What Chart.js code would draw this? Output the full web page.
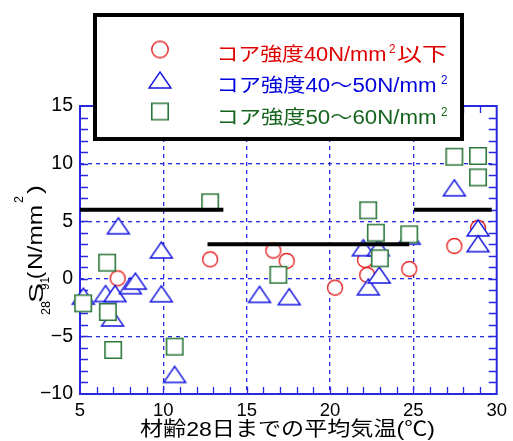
<!DOCTYPE html>
<html>
<head>
	<meta charset="utf-8">
	<title>コア強度と平均気温</title>
	<script src="https://cdn.jsdelivr.net/npm/chart.js"></script>
	<style type="text/css">
		body { margin: 0; padding: 0; background: #fff; }
		canvas { display: block; }
	</style>
</head>
<body>
	<canvas id="chart" width="513" height="441"></canvas>

	<script>
		// --- data ---
		// コア強度40N/mm2以下 (circles)
		var circleX = [7.26, 12.81, 16.6, 17.4, 20.3, 22.1, 22.23, 24.75, 27.46, 28.88];
		var circleY = [0.04, 1.69, 2.45, 1.55, -0.77, 1.63, 0.33, 0.85, 2.85, 4.42];
		// コア強度40～50N/mm2 (triangles)
		var triX = [5.2, 6.53, 7.1, 7.3, 6.95, 8.02, 8.32, 9.88, 9.88, 10.68, 15.77, 17.55, 22.0, 22.9, 22.3, 22.95, 24.75, 27.46, 28.88, 28.88];
		var triY = [-1.5, -1.28, -1.28, 4.6, -3.4, -0.6, -0.2, 2.5, -1.3, -8.3, -1.35, -1.55, 2.7, 2.7, -0.7, 0.33, 3.7, 7.9, 4.42, 3.05];
		// コア強度50～60N/mm2 (squares)
		var sqX = [5.19, 6.63, 6.67, 6.99, 10.68, 12.81, 16.9, 22.29, 22.75, 22.99, 24.75, 27.46, 28.88, 28.88];
		var sqY = [-2.13, 1.4, -2.88, -6.18, -5.89, 6.64, 0.35, 5.95, 4.0, 1.78, 3.86, 10.6, 10.66, 8.8];
		// black limit lines
		var limitLeftX = [5, 13.6], limitLeftY = [6, 6];
		var limitMidX = [12.65, 24.75], limitMidY = [3, 3];
		var limitRightX = [25.03, 29.7], limitRightY = [6, 6];
		// axes
		var xMin = 5, xMax = 30, xStep = 5;
		var yMin = -10, yMax = 15, yStep = 5;
		var minorStep = 1;
		var legendLabels = ['コア強度40N/mm', 'コア強度40～50N/mm', 'コア強度50～60N/mm'];
		var xTitle = '材齢28日までの平均気温(℃)';

		var FONT = '"Liberation Sans", "Noto Sans CJK JP", sans-serif';
		var BLUE = 'rgb(40,40,225)';
		var RED = 'rgb(230,35,35)';
		var MBLUE = 'rgb(20,20,225)';
		var GREEN = 'rgb(45,120,60)';

		function toPoints(xs, ys) {
			return xs.map(function(x, i) { return { x: x, y: ys[i] }; });
		}

		// 白抜きマーカーを作る
		function makeMarker(kind, color, s) {
			var c = document.createElement('canvas');
			var w = kind === 'triangle' ? 26 : 20, h = 20;
			c.width = w; c.height = h;
			var g = c.getContext('2d');
			g.fillStyle = '#fff';
			g.strokeStyle = color;
			g.lineWidth = kind === 'square' ? 1.6 : 1.4;
			g.beginPath();
			if (kind === 'circle') g.arc(w / 2, h / 2, 7.5 * s, 0, Math.PI * 2);
			if (kind === 'square') g.rect(w / 2 - 8.2 * s, h / 2 - 8.2 * s, 16.4 * s, 16.4 * s);
			if (kind === 'triangle') {
				g.moveTo(w / 2, h / 2 - 8 * s);
				g.lineTo(w / 2 + 11 * s, h / 2 + 8 * s);
				g.lineTo(w / 2 - 11 * s, h / 2 + 8 * s);
				g.closePath();
			}
			g.fill();
			g.stroke();
			return c;
		}
		var mCircle = makeMarker('circle', RED, 1);
		var mTri = makeMarker('triangle', MBLUE, 1);
		var mSq = makeMarker('square', GREEN, 1);
		var lgCircle = makeMarker('circle', RED, 1.1);

		// 横に伸ばした文字
		function putText(ctx, text, x, y, w, size, color) {
			ctx.font = size + 'px ' + FONT;
			ctx.fillStyle = color;
			ctx.textAlign = 'left';
			ctx.textBaseline = 'alphabetic';
			var m = ctx.measureText(text).width;
			ctx.save();
			ctx.translate(x, y);
			ctx.scale(w / m, 1);
			ctx.fillText(text, 0, 0);
			ctx.restore();
		}

		// 枠と内向きの目盛り
		var framePlugin = {
			id: 'frame',
			beforeDatasetsDraw: function(chart) {
				var ctx = chart.ctx, a = chart.chartArea;
				var xs = chart.scales.x, ys = chart.scales.y;
				ctx.save();
				ctx.strokeStyle = BLUE;
				ctx.lineWidth = 1.3;
				ctx.beginPath();
				for (var v = xMin + minorStep; v < xMax; v += minorStep) {
					var p = Math.round(xs.getPixelForValue(v)) + 0.5;
					ctx.moveTo(p, a.bottom); ctx.lineTo(p, a.bottom - 7);
					ctx.moveTo(p, a.top); ctx.lineTo(p, a.top + 7);
				}
				for (var u = yMin + minorStep; u < yMax; u += minorStep) {
					var q = Math.round(ys.getPixelForValue(u)) + 0.5;
					ctx.moveTo(a.left, q); ctx.lineTo(a.left + 8, q);
					ctx.moveTo(a.right, q); ctx.lineTo(a.right - 8, q);
				}
				ctx.stroke();
				ctx.lineWidth = 2;
				ctx.strokeRect(a.left, a.top, a.right - a.left, a.bottom - a.top);
				ctx.restore();
			}
		};

		// 凡例と軸タイトル
		var textPlugin = {
			id: 'texts',
			afterDraw: function(chart) {
				var ctx = chart.ctx;
				ctx.save();

				// legend box
				ctx.fillStyle = '#fff';
				ctx.fillRect(93, 13, 371, 127);
				ctx.strokeStyle = '#000';
				ctx.lineWidth = 4;
				ctx.strokeRect(95, 15, 367, 124);

				ctx.drawImage(lgCircle, 160 - lgCircle.width / 2, 49.5 - lgCircle.height / 2);
				ctx.drawImage(mTri, 160 - mTri.width / 2, 80 - mTri.height / 2);
				ctx.drawImage(mSq, 160 - mSq.width / 2, 111.5 - mSq.height / 2);

				putText(ctx, legendLabels[0], 216.5, 60.5, 170, 19.5, 'rgb(225,0,0)');
				putText(ctx, '2', 389, 53, 6.5, 12, 'rgb(225,0,0)');
				putText(ctx, '以下', 397, 61, 50, 19.5, 'rgb(225,0,0)');
				putText(ctx, legendLabels[1], 216.5, 92, 220, 19.5, 'rgb(0,0,220)');
				putText(ctx, '2', 441, 84, 6.5, 12, 'rgb(0,0,220)');
				putText(ctx, legendLabels[2], 216.5, 123.5, 220, 19.5, 'rgb(20,100,30)');
				putText(ctx, '2', 441, 115.5, 6.5, 12, 'rgb(20,100,30)');

				// x title
				putText(ctx, xTitle, 140, 436, 295, 20, '#000');

				// y title (rotated)
				ctx.translate(0, 315);
				ctx.rotate(-Math.PI / 2);
				putText(ctx, '28', 0, 50, 14, 12, '#000');
				putText(ctx, 'S', 12, 43, 20, 21, '#000');
				putText(ctx, '91', 25, 48.5, 13, 12, '#000');
				putText(ctx, '(', 36, 42, 7, 21, '#000');
				putText(ctx, 'N/mm', 45, 42, 65, 21, '#000');
				putText(ctx, '2', 112, 23, 7, 12, '#000');
				putText(ctx, ')', 121, 42, 9, 21, '#000');

				ctx.restore();
			}
		};

		function gridColor(lo, hi) {
			return function(c) {
				if (!c.tick) return 'transparent';
				return (c.tick.value > lo && c.tick.value < hi) ? BLUE : 'transparent';
			};
		}

		var lineStyle = { type: 'line', borderColor: '#000', borderWidth: 4, pointRadius: 0, borderCapStyle: 'butt', fill: false, order: 0, clip: false };

		var ctx = document.getElementById('chart').getContext('2d');
		var chart = new Chart(ctx, {
			type: 'scatter',
			data: {
				datasets: [
					{ label: 'コア強度40N/mm2以下', data: toPoints(circleX, circleY), pointStyle: mCircle, pointRadius: 8, order: 3, clip: false },
					{ label: 'コア強度40～50N/mm2', data: toPoints(triX, triY), pointStyle: mTri, pointRadius: 8, order: 2, clip: false },
					{ label: 'コア強度50～60N/mm2', data: toPoints(sqX, sqY), pointStyle: mSq, pointRadius: 8, order: 1, clip: false },
					Object.assign({ data: toPoints(limitLeftX, limitLeftY) }, lineStyle),
					Object.assign({ data: toPoints(limitMidX, limitMidY) }, lineStyle),
					Object.assign({ data: toPoints(limitRightX, limitRightY) }, lineStyle)
				]
			},
			options: {
				responsive: false,
				animation: false,
				layout: { padding: { top: 106, right: 16, left: 0, bottom: 0 } },
				plugins: { legend: { display: false }, tooltip: { enabled: false } },
				scales: {
					x: {
						type: 'linear', min: xMin, max: xMax,
						ticks: { stepSize: xStep, color: '#000', padding: 6, font: { family: FONT, size: 18.5 } },
						grid: { color: gridColor(xMin, xMax), lineWidth: 1.3, drawTicks: false },
						border: { display: false, dash: [4, 4] },
						afterFit: function(s) { s.height = 47; }
					},
					y: {
						type: 'linear', min: yMin, max: yMax,
						ticks: {
							stepSize: yStep, color: '#000', padding: 7, font: { family: FONT, size: 19.5 },
							callback: function(v) { return String(v).replace('-', '\u2212'); }
						},
						grid: { color: gridColor(yMin, yMax), lineWidth: 1.3, drawTicks: false },
						border: { display: false, dash: [4, 4] },
						afterFit: function(s) { s.width = 80; }
					}
				}
			},
			plugins: [framePlugin, textPlugin]
		});
	</script>
</body>
</html>
